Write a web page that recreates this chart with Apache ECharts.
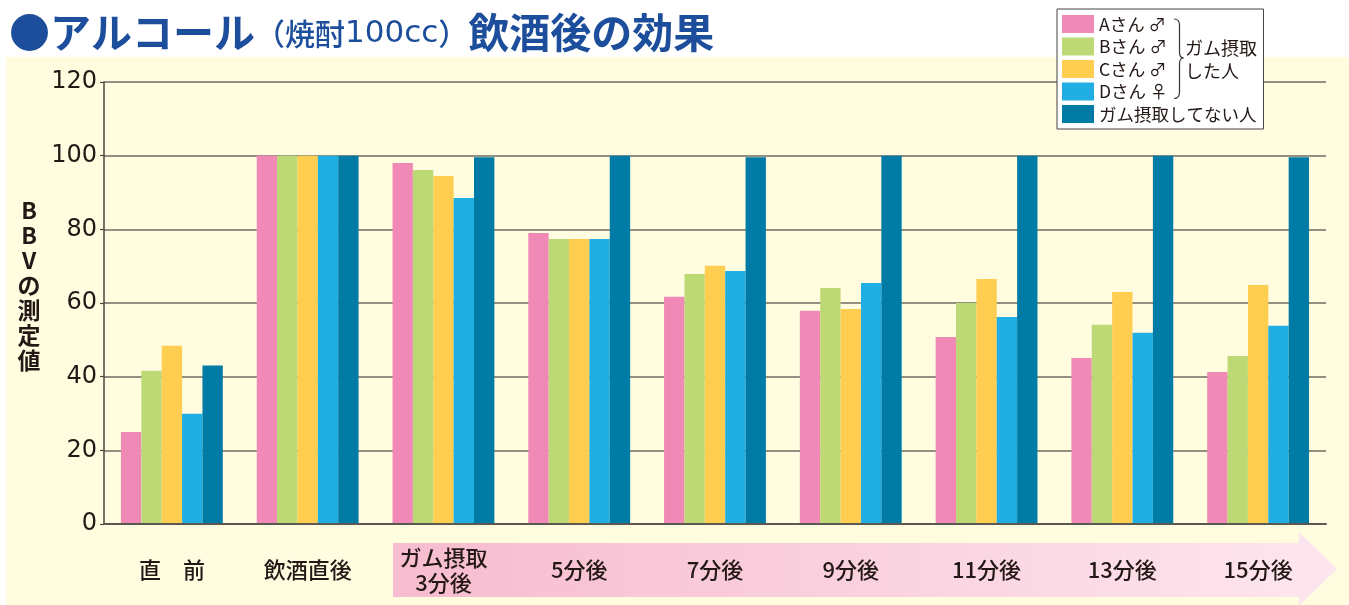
<!DOCTYPE html>
<html>
<head>
<meta charset="utf-8">
<script src="https://cdn.jsdelivr.net/npm/echarts@6/dist/echarts.min.js"></script>
<style>
html,body{margin:0;padding:0;background:#fff;}
#c{width:1349px;height:605px;}
</style>
</head>
<body>
<div id="c"></div>
<script>
const categories = ['直　前', '飲酒直後', 'ガム摂取\n3分後', '5分後', '7分後', '9分後', '11分後', '13分後', '15分後'];
const seriesNames = ['Aさん ♂', 'Bさん ♂', 'Cさん ♂', 'Dさん ♀', 'ガム摂取してない人'];
const seriesA = [25, 100, 98.0, 79.0, 61.7, 57.9, 50.8, 45.1, 41.3];
const seriesB = [41.6, 100, 96.1, 77.4, 67.9, 64.1, 60.0, 54.1, 45.6];
const seriesC = [48.4, 100, 94.5, 77.4, 70.1, 58.4, 66.5, 63.0, 64.9];
const seriesD = [29.9, 100, 88.5, 77.4, 68.7, 65.4, 56.2, 51.9, 53.8];
const seriesE = [43.0, 100, 99.6, 100, 99.6, 100, 100, 100, 99.6];
const yTicks = [0, 20, 40, 60, 80, 100, 120];
const colors = ['#F189B6', '#BDD975', '#FFCD50', '#20AEE3', '#007BA6'];
const allValues = [seriesA, seriesB, seriesC, seriesD, seriesE];

const FONT = '"Noto Sans CJK JP", "Noto Sans", sans-serif';
const NUMFONT = '"DejaVu Sans", "Noto Sans", sans-serif';
const chart = echarts.init(document.getElementById('c'), null, {renderer: 'canvas'});

const series = allValues.map((vals, i) => ({
  name: seriesNames[i],
  type: 'bar',
  data: vals,
  barGap: '0%',
  barCategoryGap: '25%',
  itemStyle: {color: colors[i]},
  z: 3
}));

const braceStyle = {stroke: '#333333', lineWidth: 1.2, fill: 'none'};
const bx = 1179.5;

chart.setOption({
  backgroundColor: '#ffffff',
  animation: false,
  textStyle: {fontFamily: FONT},
  title: {
    left: 4,
    top: 2,
    text: '{a|●アルコール}{p|（焼酎}{n|100cc}{p|）}{a|飲酒後の効果}',
    textStyle: {
      rich: {
        a: {fontSize: 41, fontWeight: 'bold', color: '#1C4E9B', fontFamily: FONT, lineHeight: 50},
        p: {fontSize: 30, fontWeight: 500, color: '#1C4E9B', fontFamily: FONT, lineHeight: 50, padding: [4, 0, 0, 0]},
        n: {fontSize: 31, fontWeight: 'normal', color: '#1C4E9B', fontFamily: NUMFONT, lineHeight: 50, padding: [4, 0, 0, 0]}
      }
    }
  },
  legend: {
    orient: 'vertical',
    left: 1057,
    top: 9,
    itemWidth: 32,
    itemHeight: 18,
    itemGap: 4.5,
    padding: [6, 7, 6, 5],
    backgroundColor: '#ffffff',
    borderColor: '#444444',
    borderWidth: 1,
    borderRadius: 0,
    icon: 'rect',
    selectedMode: false,
    textStyle: {fontSize: 17.5, color: '#231815', fontFamily: FONT, lineHeight: 18},
    data: seriesNames,
    z: 10
  },
  grid: {left: 104, right: 23, top: 82, bottom: 81},
  xAxis: {
    type: 'category',
    data: categories,
    axisLine: {lineStyle: {color: '#5a5850', width: 2}},
    axisTick: {show: false},
    axisLabel: {
      fontSize: 22,
      color: '#231815',
      fontFamily: FONT,
      fontWeight: 500,
      margin: 46,
      verticalAlign: 'middle',
      lineHeight: 25,
      interval: 0
    },
    z: 4
  },
  yAxis: {
    type: 'value',
    min: 0,
    max: 120,
    interval: 20,
    axisLine: {show: true, lineStyle: {color: '#4a4840', width: 1.5}},
    axisTick: {show: true, length: 4, lineStyle: {color: '#4a4840', width: 1.2}},
    axisLabel: {
      fontSize: 24,
      color: '#231815',
      fontFamily: NUMFONT,
      margin: 7,
      formatter: v => (yTicks.indexOf(v) >= 0 ? String(v) : '')
    },
    splitLine: {show: true, lineStyle: {color: '#6f6c62', width: 1.5}}
  },
  graphic: [
    {
      type: 'rect', z: -10, silent: true,
      shape: {x: 6, y: 57, width: 1343, height: 548},
      style: {fill: '#FFFCE0'}
    },
    {
      type: 'polygon', z: -5, silent: true,
      shape: {points: [[393, 543], [1299, 543], [1299, 532], [1337, 569], [1299, 606], [1299, 597], [393, 597]]},
      style: {
        fill: new echarts.graphic.LinearGradient(0, 0, 1, 0, [
          {offset: 0, color: '#F7BCCF'},
          {offset: 1, color: '#FDE6EF'}
        ])
      }
    },
    {
      type: 'text', z: 20, silent: true,
      x: 29, y: 198,
      style: {text: 'B\nB\nV\nの\n測\n定\n値', fontSize: 23, fontWeight: 'bold', lineHeight: 25, align: 'center', verticalAlign: 'top', fill: '#231815', fontFamily: FONT}
    },
    {type: 'bezierCurve', z: 20, silent: true, shape: {x1: 1174, y1: 19, x2: bx, y2: 25, cpx1: bx, cpy1: 19}, style: braceStyle},
    {type: 'line', z: 20, silent: true, shape: {x1: bx, y1: 25, x2: bx, y2: 52}, style: braceStyle},
    {type: 'bezierCurve', z: 20, silent: true, shape: {x1: bx, y1: 52, x2: 1183.5, y2: 58, cpx1: bx, cpy1: 58}, style: braceStyle},
    {type: 'bezierCurve', z: 20, silent: true, shape: {x1: 1183.5, y1: 58, x2: bx, y2: 64, cpx1: bx, cpy1: 58}, style: braceStyle},
    {type: 'line', z: 20, silent: true, shape: {x1: bx, y1: 64, x2: bx, y2: 92}, style: braceStyle},
    {type: 'bezierCurve', z: 20, silent: true, shape: {x1: bx, y1: 92, x2: 1174, y2: 98.5, cpx1: bx, cpy1: 98.5}, style: braceStyle},
    {
      type: 'text', z: 20, silent: true,
      x: 1185, y: 37,
      style: {text: 'ガム摂取\nした人', fontSize: 18, lineHeight: 23, fill: '#231815', fontFamily: FONT}
    }
  ],
  series: series
});
</script>
</body>
</html>
